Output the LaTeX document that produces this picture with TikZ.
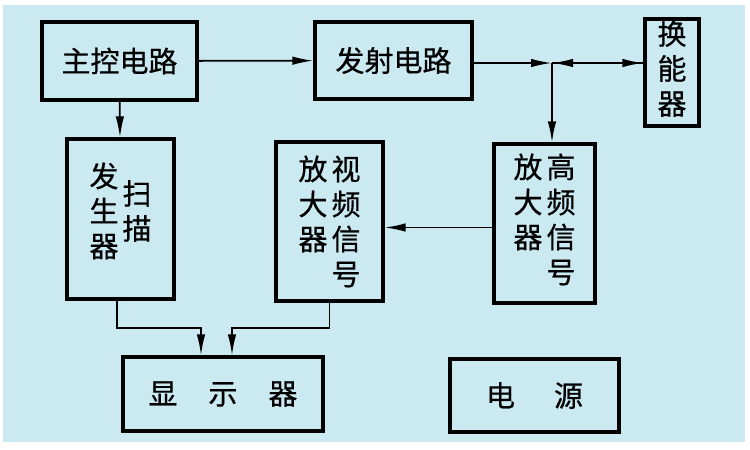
\documentclass[tikz,border=0pt]{standalone}
\usepackage{fontspec}
\newfontfamily\cjk[FakeBold=0.6]{Noto Sans CJK SC}
\usetikzlibrary{arrows.meta}
\definecolor{bgblue}{RGB}{202,233,241}
\newcommand\shu[2][c]{\begin{tabular}[#1]{@{}c@{}}#2\end{tabular}}

\begin{document}
\begin{tikzpicture}[x=1pt, y=-1pt,
    box/.style = {shape=rectangle, draw, line width=3.2pt, inner sep=0pt,
      font=\cjk\fontsize{29}{35}\selectfont},
    conn/.style = {line width=1.8pt, -{Latex[length=21pt,width=8.5pt]}}]
  \useasboundingbox (0,0) rectangle (750,450);
  \fill[bgblue] (3,5) rectangle (745,442);
  \node[box, minimum width=155, minimum height=78] (zhukong) at (119.5,61) {主控电路};
  \node[box, minimum width=157, minimum height=77] (fashe) at (393.5,60.5) {发射电路};
  \node[box, minimum width=54, minimum height=107] (huanneng) at (672,72.5) {\shu{换\\能\\器}};
  \node[box, minimum width=107, minimum height=160] (saomiao) at (120.5,219)
    {\raisebox{4pt}[\height][\depth]{\begin{tabular}{@{}c@{\hspace{4pt}}c@{}}\shu{发\\生\\器} & \shu{扫\\描}\end{tabular}}};
  \node[box, minimum width=107, minimum height=159] (shipin) at (329.5,221.5)
    {\raisebox{-4pt}[\height][\depth]{\begin{tabular}{@{}c@{\hspace{4pt}}c@{}}\shu[t]{放\\大\\器} & \shu[t]{视\\频\\信\\号}\end{tabular}}};
  \node[box, minimum width=101, minimum height=159] (gaopin) at (544.5,223.5)
    {\begin{tabular}{@{}c@{\hspace{4pt}}c@{}}\shu[t]{放\\大\\器} & \shu[t]{高\\频\\信\\号}\end{tabular}};
  \node[box, minimum width=200, minimum height=74] (xianshi) at (223,394) {显\hspace{31pt}示\hspace{31pt}器};
  \node[box, minimum width=169, minimum height=73] (dianyuan) at (534.5,395.5) {电\hspace{39pt}源};
  \coordinate (fen) at (552,63);
  \coordinate (s1) at (201,328);
  \coordinate (s2) at (232,328);
  \draw[conn] (zhukong) -- (fashe);
  \draw[conn] (zhukong) -- (saomiao);
  \draw[conn] (fashe.east |- fen) -- (fen);
  \draw[conn] (fen) -- (huanneng.west |- fen);
  \draw[conn] (huanneng.west |- fen) -- (fen);
  \draw[conn] (fen) -- (fen |- gaopin.north);
  \draw[conn] ([yshift=-4pt]gaopin.west) -- ([yshift=-4pt]gaopin.west -| shipin.east);
  \draw[conn] ([xshift=-3.5pt]saomiao.south) |- (s1) -- (s1 |- xianshi.north);
  \draw[conn] (shipin.south) |- (s2) -- (s2 |- xianshi.north);
\end{tikzpicture}
\end{document}
